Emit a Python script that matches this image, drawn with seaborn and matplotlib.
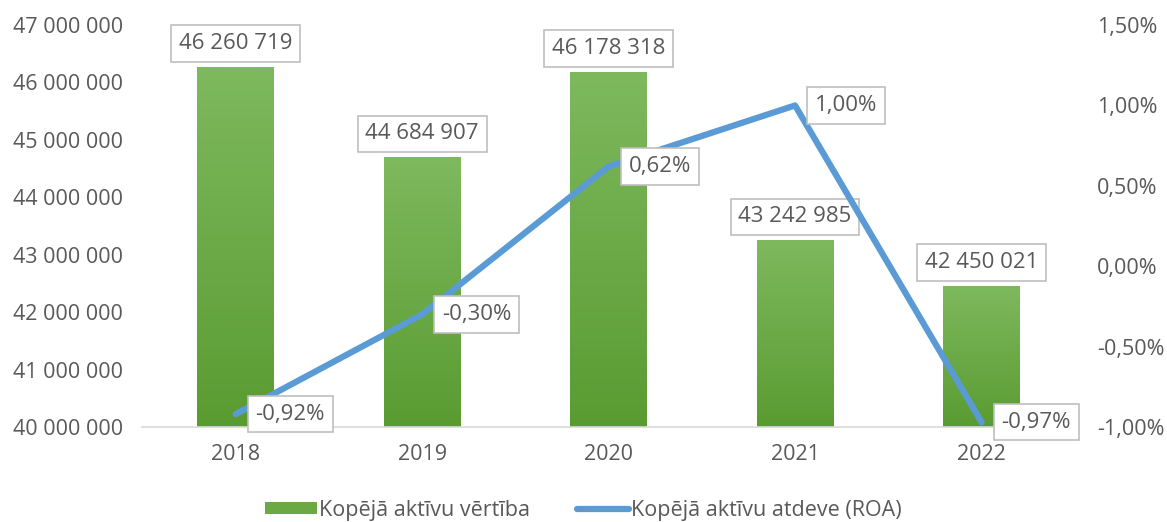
import matplotlib
matplotlib.use("Agg")
import matplotlib.pyplot as plt
import matplotlib.ticker as mticker
from matplotlib.patches import Patch
from matplotlib.lines import Line2D
import seaborn as sns
import pandas as pd
import numpy as np

years = ["2018", "2019", "2020", "2021", "2022"]
assets = [46260719, 44684907, 46178318, 43242985, 42450021]
roa = [-0.0092, -0.0030, 0.0062, 0.0100, -0.0097]

bar_label = "Kopējā aktīvu vērtība"
line_label = "Kopējā aktīvu atdeve (ROA)"

df = pd.DataFrame({"gads": years, "aktivi": assets, "roa": roa})

sns.set_style("white")
plt.rcParams["font.family"] = ["Open Sans", "DejaVu Sans"]
txt = "#595959"
green_top = "#7EB95E"
green_bot = "#5A9B31"
blue = "#5B9BD5"
y_min, y_max = 40000000, 47000000

fig = plt.figure(figsize=(11.67, 5.22), dpi=100)
ax = fig.add_axes([0.122, 0.182, 0.799, 0.770])

sns.barplot(data=df, x="gads", y="aktivi", color=green_bot, width=0.41, ax=ax)

# vertical gradient inside each bar (only the visible part)
grad = np.linspace(0, 1, 256).reshape(-1, 1)
cmap = matplotlib.colors.LinearSegmentedColormap.from_list("g", [green_bot, green_top])
for p in ax.patches:
    x0 = p.get_x()
    x1 = x0 + p.get_width()
    top = p.get_y() + p.get_height()
    p.set_visible(False)
    ax.imshow(grad, extent=[x0, x1, y_min, top], origin="lower", aspect="auto",
              cmap=cmap, zorder=2)
ax.set_xlim(-0.5, 4.5)
ax.set_ylim(y_min, y_max)

box = dict(boxstyle="square,pad=0.35", facecolor="white", edgecolor="#BFBFBF", linewidth=1.2)
for i, v in enumerate(assets):
    ax.annotate(f"{v:,}".replace(",", " "), (i, v), xytext=(0, 24), textcoords="offset pixels",
                ha="center", va="center", fontsize=16, color=txt, bbox=box, zorder=6)

ax.yaxis.set_major_locator(mticker.MultipleLocator(1000000))
ax.yaxis.set_major_formatter(mticker.FuncFormatter(lambda v, p: f"{v:,.0f}".replace(",", " ")))
ax.tick_params(axis="both", length=0, labelsize=15.5, labelcolor=txt)
ax.tick_params(axis="x", pad=12)
ax.tick_params(axis="y", pad=14)
ax.set_xlabel("")
ax.set_ylabel("")
for s in ["top", "left", "right"]:
    ax.spines[s].set_visible(False)
ax.spines["bottom"].set_color("#D9D9D9")
ax.spines["bottom"].set_linewidth(1.2)
ax.spines["bottom"].set_zorder(3)

ax2 = ax.twinx()
sns.lineplot(x=np.arange(len(years)), y=roa, color=blue, linewidth=4.5, ax=ax2,
             solid_capstyle="round", zorder=4)
ax2.set_ylim(-0.01, 0.015)
ax2.set_xlim(-0.5, 4.5)
ax2.yaxis.set_major_locator(mticker.MultipleLocator(0.005))
ax2.yaxis.set_major_formatter(mticker.FuncFormatter(lambda v, p: f"{v*100:.2f}%".replace(".", ",")))
ax2.tick_params(axis="y", length=0, labelsize=15.5, labelcolor=txt, pad=16)
for s in ax2.spines.values():
    s.set_visible(False)

for i, v in enumerate(roa):
    ax2.annotate(f"{v*100:.2f}%".replace(".", ","), (i, v), xytext=(20, 0), textcoords="offset pixels",
                 ha="left", va="center", fontsize=16, color=txt, bbox=box, zorder=6)

handles = [Patch(facecolor="#6CA945", edgecolor="none"),
           Line2D([0], [0], color=blue, linewidth=4.5, solid_capstyle="round")]
fig.legend(handles, [bar_label, line_label], loc="lower center", bbox_to_anchor=(0.5, -0.035),
           ncol=2, frameon=False, fontsize=15.5, labelcolor=txt, handlelength=2.4,
           handleheight=0.5, handletextpad=0.1, columnspacing=2.2)

fig.savefig("out.png", dpi=100)
